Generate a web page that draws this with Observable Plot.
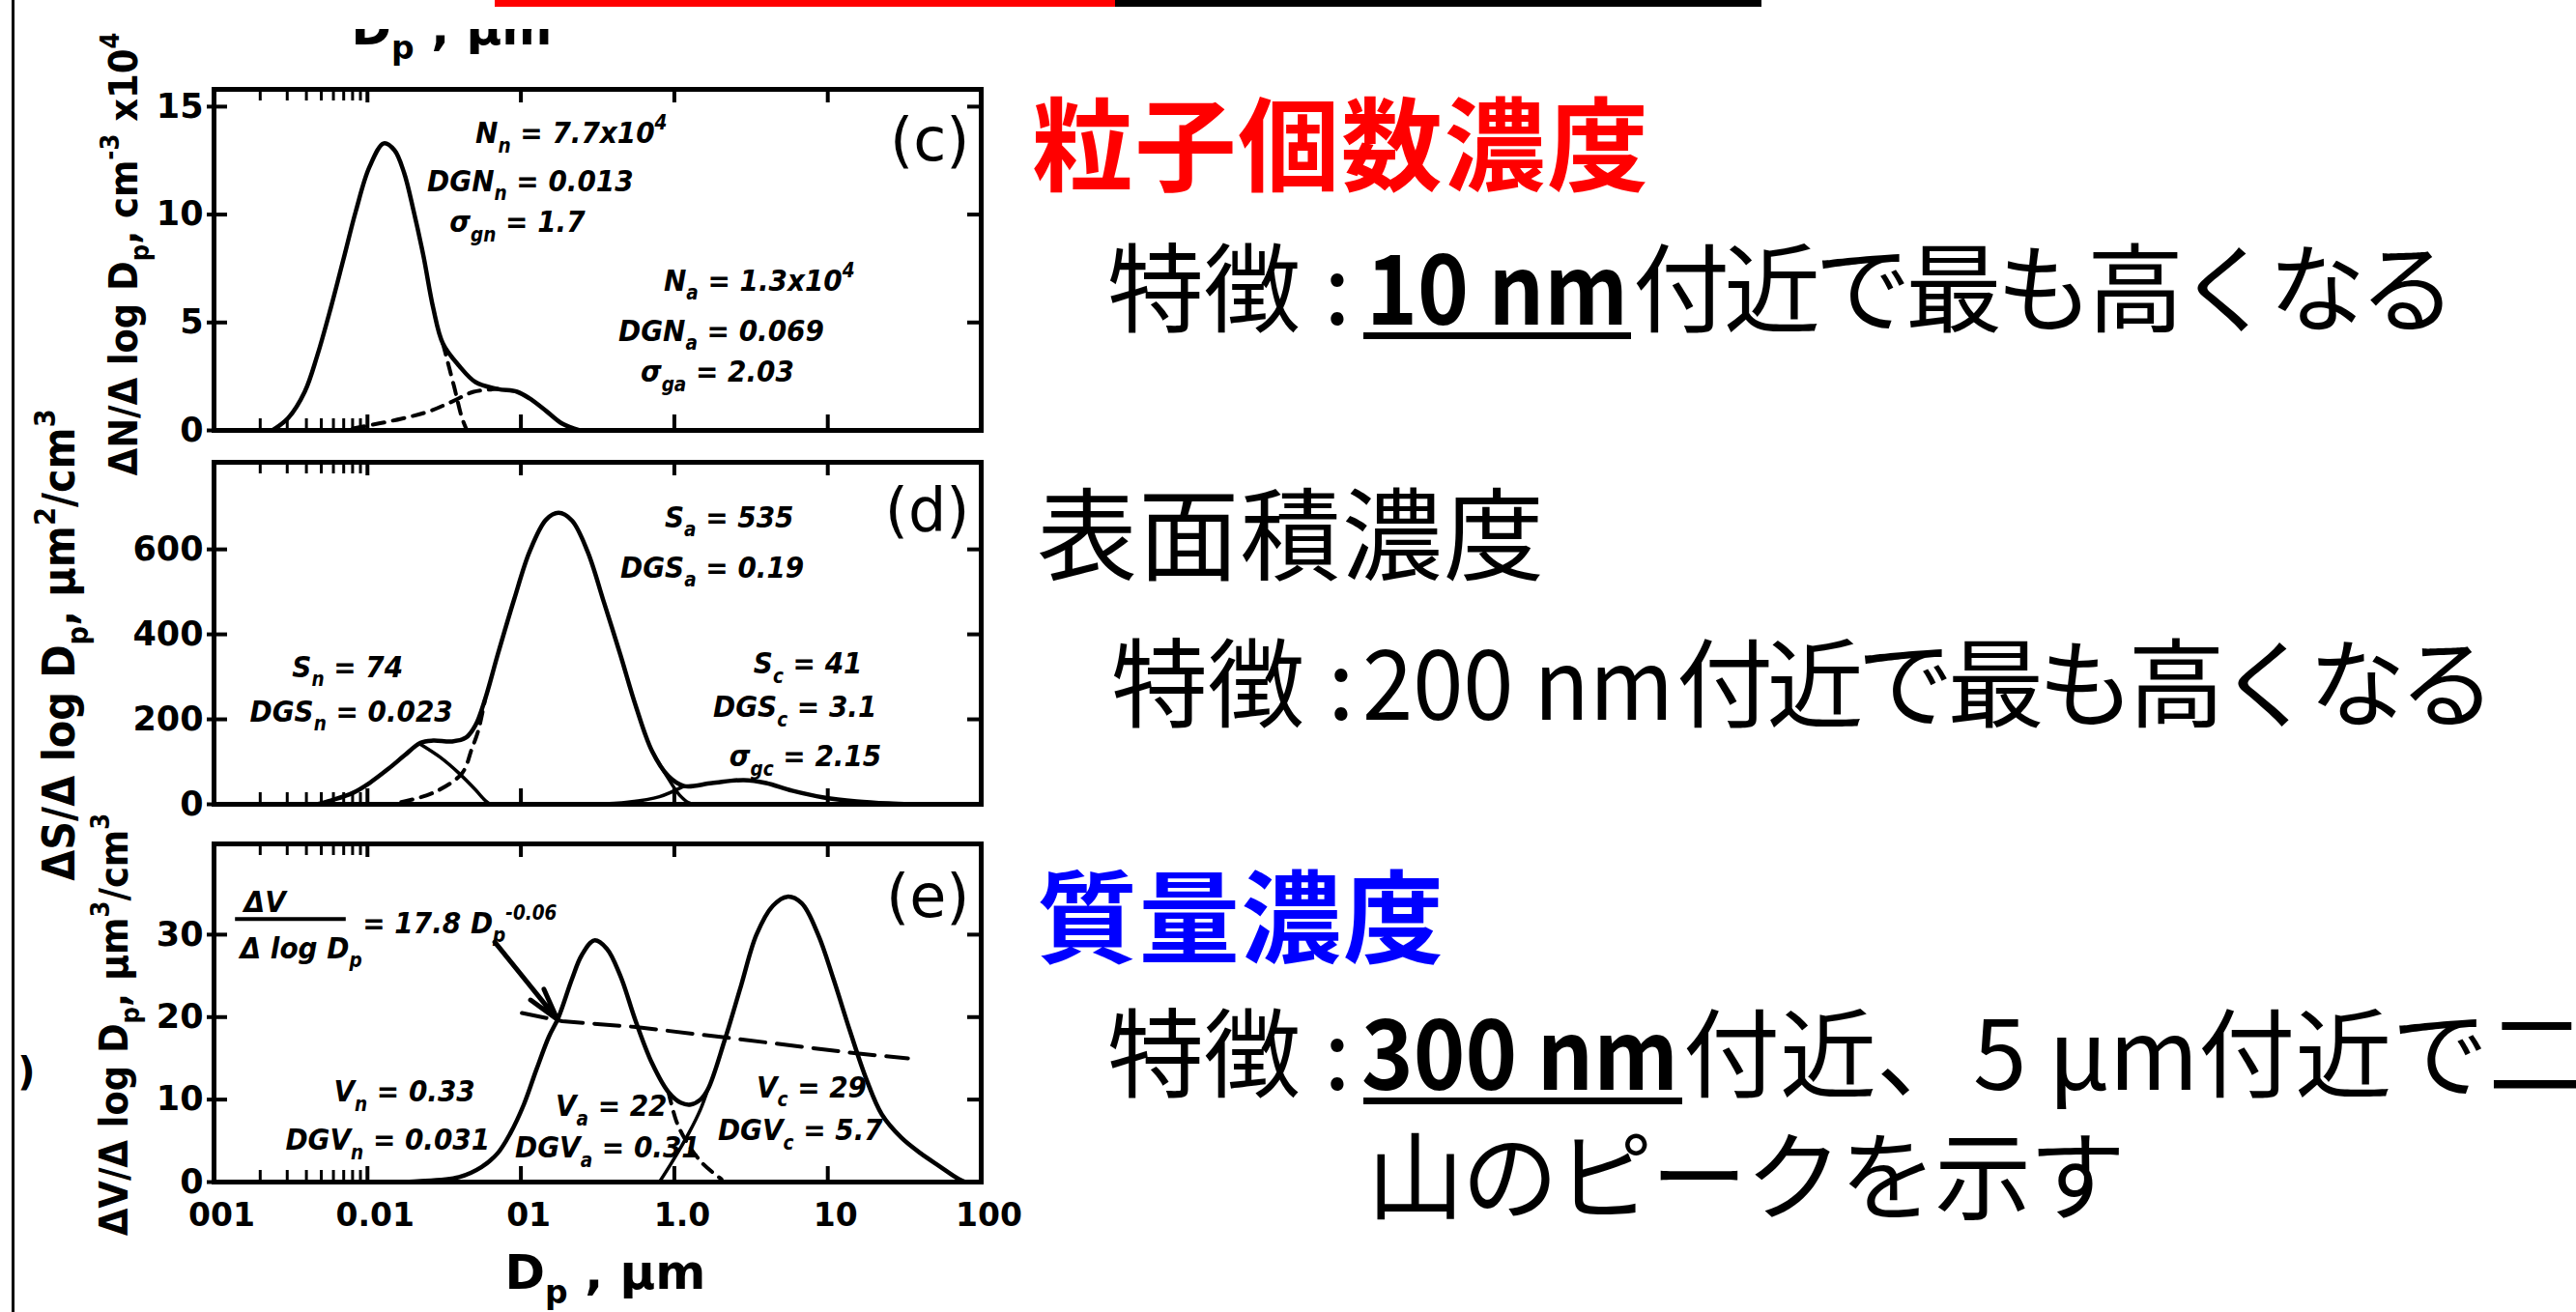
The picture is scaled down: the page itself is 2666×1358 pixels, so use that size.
<!DOCTYPE html>
<html><head><meta charset="utf-8">
<script src="https://cdn.jsdelivr.net/npm/d3@7"></script>
<script src="https://cdn.jsdelivr.net/npm/@observablehq/plot@0.6"></script>
<style>
html,body{margin:0;padding:0;background:#fff;}
#page{position:relative;width:2666px;height:1358px;overflow:hidden;background:#fff;}
.abs{position:absolute;}
</style></head><body><div id="page"></div>
<script>
// ---------------- data ----------------
const xMajorTicks = [0.001, 0.01, 0.1, 1, 10, 100];
const xTickLabels = ["001", "0.01", "01", "1.0", "10", "100"];
const xMinorTicks = [0.002, 0.003, 0.004, 0.005, 0.006, 0.007, 0.008, 0.009];
const cYTicks = [0, 5, 10, 15];
const dYTicks = [0, 200, 400, 600];
const eYTicks = [0, 10, 20, 30];

// (c) number distribution [Dp (um), dN/dlogDp (x10^4 cm^-3)]
const cTotal = [[0.0024,0],[0.00305,0.58],[0.0039,1.79],[0.0047,3.45],[0.00577,5.68],[0.00697,7.92],[0.0084,10.16],[0.0103,12.2],[0.0128,13.3],[0.015,12.98],[0.0173,11.95],[0.02,10.16],[0.0232,8.06],[0.0268,5.68],[0.031,4.03],[0.0395,3.0],[0.0506,2.24],[0.0706,1.92],[0.0944,1.79],[0.114,1.48],[0.146,0.9],[0.186,0.31],[0.242,0]];
const cNucTail = [[0.031,4.03],[0.0368,2.0],[0.0413,0.58],[0.0445,0]];
const cAccFoot = [[0.00805,0.09],[0.0166,0.54],[0.0256,0.9],[0.0357,1.34],[0.0492,1.79],[0.0706,1.92]];

// (d) surface distribution [Dp, dS/dlogDp (um^2/cm^3)]
const dTotal = [[0.0047,0],[0.00577,9],[0.00805,27],[0.0103,50],[0.01374,84],[0.0173,114],[0.0222,145],[0.0268,150],[0.0357,148],[0.0439,157],[0.0506,186],[0.0585,248],[0.0706,352],[0.0903,482],[0.114,595],[0.146,670],[0.176,686],[0.215,668],[0.272,595],[0.348,475],[0.445,352],[0.56,232],[0.716,125],[0.916,66],[1.156,43],[1.76,50],[2.84,57],[3.96,50],[5.85,32],[9.44,16],[15.4,7],[24.9,2],[35,0]];
const dNucTail = [[0.0222,141],[0.0297,111],[0.0395,73],[0.0506,34],[0.0585,9],[0.063,0]];
const dAccFoot = [[0.0166,5],[0.0268,27],[0.0413,73],[0.0478,130],[0.0529,175],[0.0585,248]];
const dAccTail = [[0.716,125],[0.916,60],[1.08,22],[1.25,3],[1.35,0]];
const dCoarseFoot = [[0.3,0],[0.5,5],[0.8,18],[1.156,43]];

// (e) volume distribution [Dp, dV/dlogDp (um^3/cm^3)]
const eTotal = [[0.01,0],[0.0212,0.1],[0.0395,0.6],[0.0552,1.8],[0.0706,3.5],[0.0853,5.9],[0.1045,9.4],[0.126,13.6],[0.152,17.6],[0.176,20.0],[0.215,24.6],[0.249,27.5],[0.301,29.3],[0.363,28.3],[0.445,25.0],[0.56,19.5],[0.716,14.4],[0.916,10.9],[1.107,9.6],[1.28,9.4],[1.48,10.0],[1.66,11.3],[2.12,17.1],[2.72,23.8],[3.43,30.0],[4.39,33.5],[5.45,34.6],[6.76,33.8],[8.65,30.0],[10.9,24.6],[13.96,18.3],[17.9,12.4],[22.5,8.2],[30.1,5.4],[40.2,3.5],[53.7,1.9],[71.6,0.35],[79.2,0]];
const eAccTail = [[0.916,10.9],[1.03,7.4],[1.19,5.0],[1.52,2.3],[2.03,0.35]];
const eCoarseFoot = [[0.805,0.1],[0.957,2.3],[1.24,5.9],[1.48,8.8],[1.66,11.3]];
const ePowerLaw = [[0.1015,20.5],[0.186,19.5],[0.56,18.8],[2.45,17.4],[15.4,15.6],[33.3,15.0]];
const eArrow = [{x1:0.0676, y1:29.1, x2:0.173, y2:19.7}];
const eFraction = [{x1:0.00138, x2:0.00727, y:31.9}];

// annotations (data coordinates)
const cNotes = [
  {x:0.0506, y:13.3, label:"N_{n} = 7.7x10^{4}"},
  {x:0.0245, y:11.1, label:"DGN_{n} = 0.013"},
  {x:0.0343, y:9.18, label:"σ_{gn} = 1.7"},
  {x:0.853, y:6.49, label:"N_{a} = 1.3x10^{4}"},
  {x:0.432, y:4.16, label:"DGN_{a} = 0.069"},
  {x:0.602, y:2.24, label:"σ_{ga} = 2.03"}
];
const dNotes = [
  {x:0.865, y:652, label:"S_{a} = 535"},
  {x:0.445, y:534, label:"DGS_{a} = 0.19"},
  {x:0.00323, y:300, label:"S_{n} = 74"},
  {x:0.00171, y:195, label:"DGS_{n} = 0.023"},
  {x:3.28, y:307, label:"S_{c} = 41"},
  {x:1.79, y:205, label:"DGS_{c} = 3.1"},
  {x:2.28, y:89, label:"σ_{gc} = 2.15"}
];
const eNotes = [
  {x:0.00603, y:9.73, label:"V_{n} = 0.33"},
  {x:0.00292, y:3.87, label:"DGV_{n} = 0.031"},
  {x:0.168, y:7.97, label:"V_{a} = 22"},
  {x:0.0916, y:2.93, label:"DGV_{a} = 0.31"},
  {x:3.43, y:10.3, label:"V_{c} = 29"},
  {x:1.92, y:5.04, label:"DGV_{c} = 5.7"},
  {x:0.00157, y:32.7, label:"ΔV"},
  {x:0.00148, y:27.1, label:"Δ log D_{p}"},
  {x:0.0093, y:30.2, label:"= 17.8 D_{p}^{-0.06}"}
];

const cLabel = "ΔN/Δ log D_{p}, cm^{-3} x10^{4}";
const dLabel = "ΔS/Δ log D_{p}, μm^{2}/cm^{3}";
const eLabel = "ΔV/Δ log D_{p}, μm^{3}/cm^{3}";
const xTitle = "D_{p} , μm";

// ---------------- rendering ----------------
const NS = "http://www.w3.org/2000/svg";
const SCAN = "'DejaVu Sans Condensed','Liberation Sans Narrow','DejaVu Sans',sans-serif";
const WIDE = "'DejaVu Sans',sans-serif";
const JP = "'Noto Sans CJK JP','Noto Sans CJK SC',sans-serif";
const page = document.getElementById("page");

function richify(svg) {
  svg.querySelectorAll("text").forEach(t => {
    if (t.querySelector("tspan")) return;
    const s = t.textContent;
    if (!/[_^]\{/.test(s)) return;
    const fs = parseFloat(getComputedStyle(t).fontSize) || 30;
    while (t.firstChild) t.removeChild(t.firstChild);
    const re = /([_^])\{([^}]*)\}/g;
    let last = 0, m, shift = 0;
    const add = (str, kind) => {
      const ts = document.createElementNS(NS, "tspan");
      const target = kind === "_" ? 0.3 * fs : kind === "^" ? -0.45 * fs : 0;
      const dy = target - shift;
      shift = target;
      if (dy) ts.setAttribute("dy", dy.toFixed(1));
      if (kind) ts.setAttribute("font-size", (fs * 0.66).toFixed(1));
      ts.textContent = str;
      t.appendChild(ts);
    };
    while ((m = re.exec(s))) {
      if (m.index > last) add(s.slice(last, m.index), null);
      add(m[2], m[1]);
      last = re.lastIndex;
    }
    if (last < s.length) add(s.slice(last), null);
  });
}

const P = d => d[0], V = d => d[1];
const solid = (data, w = 4.5) => Plot.line(data, {x: P, y: V, curve: "catmull-rom", stroke: "black", strokeWidth: w, clip: true});
const dashed = (data, w = 4) => Plot.line(data, {x: P, y: V, curve: "catmull-rom", stroke: "black", strokeWidth: w, strokeDasharray: "12,9", clip: true});

function panel(cfg) {
  const plotW = 794;
  const plotH = cfg.frameBottom - cfg.frameTop;
  const inner = xMajorTicks.slice(1, -1);
  const marks = [
    Plot.frame({strokeWidth: 5}),
    Plot.ruleY(cfg.yTicks.slice(1), {insetRight: plotW - 14, strokeWidth: 4}),
    Plot.ruleY(cfg.yTicks.slice(1), {insetLeft: plotW - 14, strokeWidth: 4}),
    Plot.ruleX(inner, {insetBottom: plotH - 14, strokeWidth: 4}),
    Plot.ruleX(inner, {insetTop: plotH - 16, strokeWidth: 4}),
    Plot.ruleX(xMinorTicks, {insetBottom: plotH - 12, strokeWidth: 3}),
    Plot.ruleX(xMinorTicks, {insetTop: plotH - 12, strokeWidth: 3}),
    Plot.axisY(cfg.yTicks, {tickSize: 7, tickPadding: 4, strokeWidth: 4, fontSize: 35, fontWeight: "bold", fontFamily: WIDE, label: null}),
    Plot.text([cfg.yLabel], {text: d => d, frameAnchor: "left", textAnchor: "middle", dx: cfg.labelDx, dy: cfg.labelDy, rotate: -90, fontSize: cfg.labelSize, fontWeight: "bold", fontFamily: SCAN}),
    Plot.text([cfg.tag], {text: d => d, frameAnchor: "top-right", dx: -12, dy: cfg.tagDy, textAnchor: "end", lineAnchor: "bottom", fontSize: 62, fontFamily: WIDE}),
    Plot.text(cfg.notes, {x: "x", y: "y", text: "label", textAnchor: "start", lineAnchor: "bottom", fontSize: 31, fontWeight: "bold", fontStyle: "italic", fontFamily: SCAN}),
    ...cfg.marks
  ];
  const svg = Plot.plot({
    width: 1040,
    height: cfg.height,
    marginLeft: 221,
    marginRight: 25,
    marginTop: cfg.frameTop - cfg.svgTop,
    marginBottom: cfg.height - (cfg.frameBottom - cfg.svgTop),
    x: {type: "log", domain: [0.001, 100], axis: null},
    y: {domain: cfg.yDomain, axis: null},
    style: {background: "transparent", overflow: "visible", color: "black"},
    marks
  });
  const wrap = document.createElement("div");
  wrap.className = "abs";
  wrap.style.left = "0px";
  wrap.style.top = cfg.svgTop + "px";
  wrap.style.width = "1040px";
  if (cfg.clipBox) { wrap.style.height = cfg.height + "px"; wrap.style.overflow = "hidden"; }
  wrap.appendChild(svg);
  page.appendChild(wrap);
  richify(svg);
}

// left border and top bars
function bar(left, top, w, h, color) {
  const d = document.createElement("div");
  d.className = "abs";
  Object.assign(d.style, {left: left + "px", top: top + "px", width: w + "px", height: h + "px", background: color});
  page.appendChild(d);
}
bar(12, 0, 3, 1358, "#000");
bar(512, 0, 642, 7, "#ff0000");
bar(1154, 0, 669, 7, "#000");

// (c)
panel({
  svgTop: 30, height: 468, frameTop: 92, frameBottom: 445, clipBox: true,
  yDomain: [0, 15.8], yTicks: cYTicks, yLabel: cLabel, labelDx: -93, labelDy: -6, labelSize: 41,
  tag: "(c)", tagDy: 73, notes: cNotes,
  marks: [
    solid(cTotal), dashed(cNucTail), dashed(cAccFoot),
    Plot.text([xTitle], {text: d => d, frameAnchor: "top", textAnchor: "middle", dx: -151, dy: -47, lineAnchor: "bottom", fontSize: 50, fontWeight: "bold", fontFamily: WIDE})
  ]
});

// (d)
panel({
  svgTop: 0, height: 940, frameTop: 478, frameBottom: 832,
  yDomain: [0, 805], yTicks: dYTicks, yLabel: dLabel, labelDx: -159, labelDy: 12, labelSize: 46,
  tag: "(d)", tagDy: 70, notes: dNotes,
  marks: [
    solid(dTotal), solid(dNucTail, 3.5), dashed(dAccFoot), solid(dAccTail, 3.5), solid(dCoarseFoot, 3.5)
  ]
});

// (e)
panel({
  svgTop: 0, height: 1358, frameTop: 873, frameBottom: 1223,
  yDomain: [0, 41], yTicks: eYTicks, yLabel: eLabel, labelDx: -103, labelDy: 12, labelSize: 41,
  tag: "(e)", tagDy: 75, notes: eNotes,
  marks: [
    solid(eTotal), dashed(eAccTail), solid(eCoarseFoot, 3.5),
    Plot.line(ePowerLaw, {x: P, y: V, stroke: "black", strokeWidth: 4, strokeDasharray: "26,12"}),
    Plot.arrow(eArrow, {x1: "x1", y1: "y1", x2: "x2", y2: "y2", strokeWidth: 5, headLength: 26, headAngle: 30}),
    Plot.ruleY(eFraction, {y: "y", x1: "x1", x2: "x2", strokeWidth: 4}),
    Plot.axisX(xMajorTicks, {tickSize: 0, tickPadding: 22, tickFormat: d => xTickLabels[xMajorTicks.indexOf(d)], fontSize: 33, fontWeight: "bold", fontFamily: WIDE, dx: 8, label: null}),
    Plot.text([xTitle], {text: d => d, frameAnchor: "bottom", textAnchor: "middle", dx: 8, dy: 110, lineAnchor: "bottom", fontSize: 50, fontWeight: "bold", fontFamily: WIDE}),
    Plot.text([")"], {text: d => d, frameAnchor: "left", textAnchor: "middle", dx: -194, dy: 62, fontSize: 40, fontWeight: "bold", fontFamily: WIDE})
  ]
});

// right-hand explanatory text
const rightItems = [
  {t: "粒子個数濃度", x: 1068, y: 189, s: 105, w: 700, fill: "#ff0000", len: 638},
  {t: "特徴", x: 1146, y: 336, s: 100},
  {t: ":", x: 1370, y: 336, s: 100},
  {t: "10 nm", x: 1414, y: 336, s: 100, w: 700, len: 271, adj: "spacingAndGlyphs"},
  {t: "付近で最も高くなる", x: 1690, y: 336, s: 100, len: 852},
  {t: "表面積濃度", x: 1073, y: 593, s: 104, len: 525},
  {t: "特徴", x: 1150, y: 745, s: 100},
  {t: ":", x: 1374, y: 745, s: 100},
  {t: "200 nm", x: 1410, y: 745, s: 100, len: 322, adj: "spacingAndGlyphs"},
  {t: "付近で最も高くなる", x: 1735, y: 745, s: 100, len: 848},
  {t: "質量濃度", x: 1073, y: 989, s: 104, w: 700, fill: "#0000ff", len: 421},
  {t: "特徴", x: 1146, y: 1128, s: 100},
  {t: ":", x: 1370, y: 1128, s: 100},
  {t: "300 nm", x: 1409, y: 1128, s: 100, w: 700, len: 328, adj: "spacingAndGlyphs"},
  {t: "付近、5 μm付近で二", x: 1742, y: 1128, s: 100},
  {t: "山のピークを示す", x: 1415, y: 1255, s: 100, len: 785}
];
const underlines = [{x1: 1411, x2: 1688, y: 344, h: 7}, {x1: 1411, x2: 1741, y: 1136, h: 7}];

const ov = d3.select(page).append("svg").attr("class", "abs")
  .attr("width", 2666).attr("height", 1358).style("left", "0px").style("top", "0px");
rightItems.forEach(it => {
  const t = ov.append("text").attr("x", it.x).attr("y", it.y)
    .attr("font-family", JP).attr("font-size", it.s).attr("font-weight", it.w || 400)
    .attr("fill", it.fill || "#000").text(it.t);
  if (it.len) t.attr("textLength", it.len).attr("lengthAdjust", it.adj || "spacing");
});
underlines.forEach(u => ov.append("rect").attr("x", u.x1).attr("y", u.y)
  .attr("width", u.x2 - u.x1).attr("height", u.h).attr("fill", "#000"));
</script>
</body></html>
